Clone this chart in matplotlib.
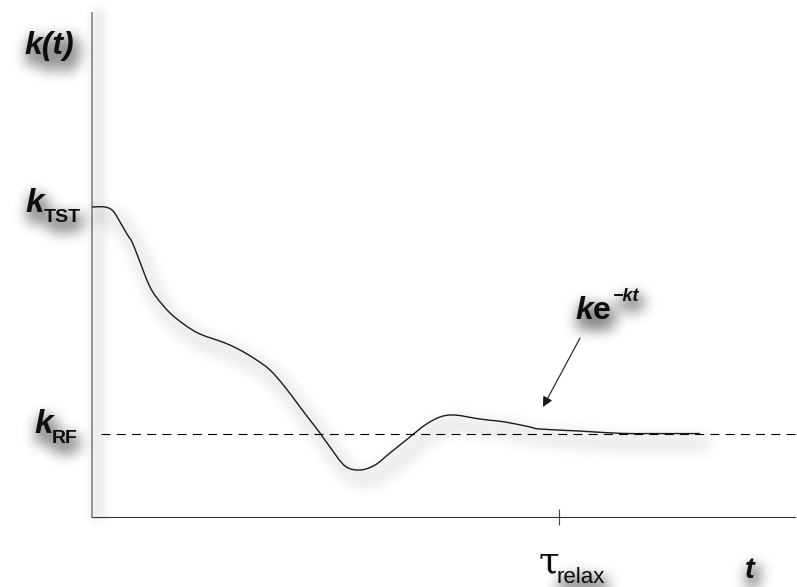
import numpy as np
import matplotlib
matplotlib.use("Agg")
import matplotlib.pyplot as plt
from matplotlib.path import Path
from matplotlib.patches import PathPatch

# Rate coefficient k(t) relaxing from the TST value to the reactive-flux plateau
t_curve = [0.00, 1.85, 2.99, 3.98, 4.98, 5.83, 7.25, 8.25, 9.25, 11.10, 13.23,
           15.36, 18.92, 21.05, 23.19, 25.32, 27.45, 29.59, 31.01, 32.43, 33.86,
           35.99, 38.12, 40.26, 42.39, 45.23, 47.37, 49.50, 51.64, 55.19, 58.75,
           62.30, 63.73, 69.42, 75.11, 79.37, 86.49]
k_curve = [3.000, 3.000, 2.965, 2.868, 2.762, 2.674, 2.445, 2.295, 2.198, 2.066,
           1.960, 1.881, 1.802, 1.740, 1.661, 1.564, 1.414, 1.238, 1.123, 1.009,
           0.885, 0.718, 0.683, 0.727, 0.833, 0.974, 1.079, 1.150, 1.167, 1.132,
           1.106, 1.062, 1.044, 1.026, 1.006, 1.004, 1.004]
k_TST = 3.0
k_RF = 1.0
tau_relax = 66.4

W, H = 797, 587
FONT = "Liberation Sans"


def gaussian_blur(a, sigma):
    r = int(3 * sigma) + 1
    x = np.arange(-r, r + 1)
    g = np.exp(-0.5 * (x / sigma) ** 2)
    g /= g.sum()
    a = np.apply_along_axis(lambda m: np.convolve(m, g, mode="same"), 0, a)
    a = np.apply_along_axis(lambda m: np.convolve(m, g, mode="same"), 1, a)
    return a


class DropShadow:
    """agg filter that replaces an artist by a soft, offset grey shadow."""

    def __init__(self, sigma=5.0, gain=1.0, cap=0.4, sigma2=4.0, dx=3, dy=5):
        self.sigma, self.gain, self.cap, self.sigma2 = sigma, gain, cap, sigma2
        self.dx, self.dy = dx, dy

    def __call__(self, im, dpi):
        pad = int(3 * (self.sigma + self.sigma2)) + 2
        a = np.pad(im[..., 3], pad)
        a = np.clip(gaussian_blur(a, self.sigma) * self.gain, 0, self.cap)
        a = gaussian_blur(a, self.sigma2)
        out = np.zeros(a.shape + (4,))
        out[..., 3] = a
        return out, -pad + self.dx, -pad - self.dy


def smooth_path(xs, ys):
    """Cubic Bezier path passing through every (x, y) point (Catmull-Rom)."""
    p = np.column_stack([xs, ys]).astype(float)
    ext = np.vstack([p[0], p, p[-1]])
    verts = [p[0]]
    codes = [Path.MOVETO]
    for i in range(len(p) - 1):
        p0, p1, p2, p3 = ext[i], ext[i + 1], ext[i + 2], ext[i + 3]
        verts += [p1 + (p2 - p0) / 6, p2 - (p3 - p1) / 6, p2]
        codes += [Path.CURVE4] * 3
    return Path(verts, codes)


fig = plt.figure(figsize=(W / 100, H / 100), dpi=100)
ax = fig.add_axes([92 / W, 70 / H, 703 / W, 504 / H])
ax.set_xlim(0, 100)
ax.set_ylim(0.269, 4.709)

for side in ("top", "right"):
    ax.spines[side].set_visible(False)
ax.spines["left"].set_color("#8c8c8c")
ax.spines["left"].set_linewidth(1.3)
ax.spines["bottom"].set_color("#333333")
ax.spines["bottom"].set_linewidth(0.8)

ax.set_yticks([])
ax.set_xticks([tau_relax])
ax.set_xticklabels([""])
ax.tick_params(axis="x", direction="inout", length=12, width=0.8, color="#444444")

# soft shadow along the vertical axis
ax.plot([0, 0], [0.269, 4.709], color="k", lw=1.5, clip_on=False, zorder=0.5,
        agg_filter=DropShadow(sigma=4, gain=1.0, cap=0.08, sigma2=4, dx=6, dy=0))

# reactive-flux plateau
ax.axhline(k_RF, xmin=0.0135, xmax=1.003, color="k", lw=0.8,
           dashes=(8.1, 5.6), clip_on=False, zorder=2)

# k(t) curve with its shadow
path = smooth_path(t_curve, k_curve)
ax.add_patch(PathPatch(path, fill=False, edgecolor="k", lw=2.5, zorder=1,
                       agg_filter=DropShadow(sigma=5, gain=1.0, cap=0.07,
                                             sigma2=5, dx=6, dy=9)))
ax.add_patch(PathPatch(path, fill=False, edgecolor="#1a1a1a", lw=1.0, zorder=3))

# arrow pointing at the exponential tail
ax.annotate("", xy=(64.15, 1.238), xytext=(69.42, 1.846),
            arrowprops=dict(arrowstyle="-|>", color="#1a1a1a", lw=0.8,
                            mutation_scale=15, shrinkA=0, shrinkB=0))


def label(px, py, s, size, weight="bold", style="italic", family=FONT,
          shadow=True):
    x, y = px / W, 1 - py / H
    kw = dict(fontsize=size, fontweight=weight, fontstyle=style,
              family=family, ha="left", va="baseline",
              transform=fig.transFigure)
    if shadow:
        fig.text(x, y, s, color="k", zorder=1,
                 agg_filter=DropShadow(sigma=4, gain=2.0, cap=0.42, sigma2=6,
                                       dx=3, dy=8),
                 **kw)
    fig.text(x, y, s, color="#0d0d0d", zorder=5, **kw)


label(24, 54, "k(t)", 23)
label(25, 212, "k", 24)
label(44, 222, "TST", 14, style="normal")
label(34, 433, "k", 24)
label(52, 443, "RF", 14, style="normal")
label(575, 319, "k", 23)
label(593, 319, "e", 23, style="normal")
label(613, 301, "\u2212kt", 13)
label(538, 572, "\u03c4", 27, weight="normal", style="normal",
      family="DejaVu Serif", shadow=False)
label(556, 583, "relax", 16, weight="normal", style="normal")
label(745, 578, "t", 21)

fig.savefig("out.png", dpi=100)
